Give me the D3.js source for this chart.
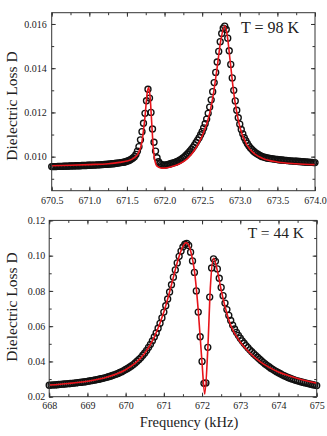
<!DOCTYPE html>
<html>
<head>
<meta charset="utf-8">
<script src="https://cdn.jsdelivr.net/npm/d3@7"></script>
<style>
  body { margin: 0; background: #fff; }
  svg { display: block; }
  text { font-family: "Liberation Serif", "Times New Roman", serif; fill: #222; }
</style>
</head>
<body>
<div id="chart"></div>
<script>
// ---- T = 98 K (upper panel), measured points ----
let freqTop = [
  670.50, 670.52, 670.54, 670.56, 670.58, 670.60, 670.62, 670.64, 670.66, 670.68,
  670.70, 670.72, 670.74, 670.76, 670.78, 670.80, 670.82, 670.84, 670.86, 670.88,
  670.90, 670.92, 670.94, 670.96, 670.98, 671.00, 671.02, 671.04, 671.06, 671.08,
  671.10, 671.12, 671.14, 671.16, 671.18, 671.20, 671.22, 671.24, 671.26, 671.28,
  671.30, 671.32, 671.34, 671.36, 671.38, 671.40, 671.42, 671.44, 671.46, 671.48,
  671.50, 671.52, 671.54, 671.56, 671.58, 671.60, 671.62, 671.64, 671.66, 671.68,
  671.70, 671.72, 671.74, 671.76, 671.78, 671.80, 671.82, 671.84, 671.86, 671.88,
  671.90, 671.92, 671.94, 671.96, 671.98, 672.00, 672.02, 672.04, 672.06, 672.08,
  672.10, 672.12, 672.14, 672.16, 672.18, 672.20, 672.22, 672.24, 672.26, 672.28,
  672.30, 672.32, 672.34, 672.36, 672.38, 672.40, 672.42, 672.44, 672.46, 672.48,
  672.50, 672.52, 672.54, 672.56, 672.58, 672.60, 672.62, 672.64, 672.66, 672.68,
  672.70, 672.72, 672.74, 672.76, 672.78, 672.80, 672.82, 672.84, 672.86, 672.88,
  672.90, 672.92, 672.94, 672.96, 672.98, 673.00, 673.02, 673.04, 673.06, 673.08,
  673.10, 673.12, 673.14, 673.16, 673.18, 673.20, 673.22, 673.24, 673.26, 673.28,
  673.30, 673.32, 673.34, 673.36, 673.38, 673.40, 673.42, 673.44, 673.46, 673.48,
  673.50, 673.52, 673.54, 673.56, 673.58, 673.60, 673.62, 673.64, 673.66, 673.68,
  673.70, 673.72, 673.74, 673.76, 673.78, 673.80, 673.82, 673.84, 673.86, 673.88,
  673.90, 673.92, 673.94, 673.96, 673.98, 674.00
]
let lossTop = [
  0.00955, 0.00955, 0.00955, 0.00955, 0.00956, 0.00956, 0.00956, 0.00956, 0.00957, 0.00957,
  0.00957, 0.00957, 0.00958, 0.00958, 0.00958, 0.00958, 0.00959, 0.00959, 0.00959, 0.00959,
  0.00960, 0.00960, 0.00960, 0.00960, 0.00961, 0.00961, 0.00961, 0.00962, 0.00962, 0.00962,
  0.00963, 0.00963, 0.00963, 0.00964, 0.00964, 0.00965, 0.00965, 0.00966, 0.00966, 0.00967,
  0.00968, 0.00968, 0.00969, 0.00970, 0.00971, 0.00972, 0.00973, 0.00974, 0.00975, 0.00977,
  0.00979, 0.00982, 0.00985, 0.00989, 0.00994, 0.01000, 0.01010, 0.01025, 0.01045, 0.01076,
  0.01113, 0.01151, 0.01196, 0.01253, 0.01305, 0.01265, 0.01200, 0.01125, 0.01065, 0.01025,
  0.00995, 0.00977, 0.00968, 0.00964, 0.00962, 0.00962, 0.00963, 0.00964, 0.00966, 0.00968,
  0.00970, 0.00972, 0.00974, 0.00977, 0.00980, 0.00984, 0.00988, 0.00993, 0.00998, 0.01004,
  0.01011, 0.01018, 0.01026, 0.01034, 0.01043, 0.01053, 0.01064, 0.01075, 0.01086, 0.01099,
  0.01113, 0.01130, 0.01149, 0.01170, 0.01196, 0.01224, 0.01257, 0.01294, 0.01335, 0.01381,
  0.01428, 0.01476, 0.01520, 0.01557, 0.01581, 0.01590, 0.01575, 0.01536, 0.01479, 0.01417,
  0.01356, 0.01300, 0.01252, 0.01210, 0.01176, 0.01147, 0.01123, 0.01103, 0.01086, 0.01072,
  0.01060, 0.01049, 0.01040, 0.01033, 0.01026, 0.01020, 0.01015, 0.01011, 0.01007, 0.01003,
  0.01000, 0.00998, 0.00996, 0.00994, 0.00993, 0.00992, 0.00991, 0.00990, 0.00989, 0.00988,
  0.00987, 0.00986, 0.00985, 0.00985, 0.00984, 0.00983, 0.00983, 0.00982, 0.00981, 0.00981,
  0.00980, 0.00980, 0.00979, 0.00979, 0.00978, 0.00978, 0.00977, 0.00977, 0.00976, 0.00976,
  0.00975, 0.00975, 0.00974, 0.00974, 0.00973, 0.00973
]
// fitted curve (red)
let fitFreqTop = [670.5, 670.75, 671.0, 671.25, 671.4, 671.5, 671.6, 671.65, 671.7, 671.74,
  671.77, 671.79, 671.81, 671.83, 671.85, 671.87, 671.9, 671.95, 672.0, 672.1,
  672.2, 672.3, 672.4, 672.5, 672.6, 672.65, 672.7, 672.75, 672.8, 672.83,
  672.87, 672.92, 673.0, 673.1, 673.2, 673.3, 673.5, 673.75, 674.0]
let fitTop = [0.00959, 0.00961, 0.00964, 0.00968, 0.00974, 0.00980, 0.00996, 0.01015, 0.01068, 0.01180,
  0.01290, 0.01312, 0.01262, 0.01150, 0.01040, 0.00985, 0.00957, 0.00949, 0.00948, 0.00955,
  0.00968, 0.00990, 0.01030, 0.01093, 0.01196, 0.01285, 0.01405, 0.01530, 0.01592, 0.01556,
  0.01440, 0.01288, 0.01135, 0.01050, 0.01012, 0.00993, 0.00976, 0.00968, 0.00964]
let xTicksTop = [670.5, 671.0, 671.5, 672.0, 672.5, 673.0, 673.5, 674.0]
let yTicksTop = [0.010, 0.012, 0.014, 0.016]

// ---- T = 44 K (lower panel), measured points ----
let freqBottom = [
  668.00, 668.05, 668.10, 668.15, 668.20, 668.25, 668.30, 668.35, 668.40, 668.45,
  668.50, 668.55, 668.60, 668.65, 668.70, 668.75, 668.80, 668.85, 668.90, 668.95,
  669.00, 669.05, 669.10, 669.15, 669.20, 669.25, 669.30, 669.35, 669.40, 669.45,
  669.50, 669.55, 669.60, 669.65, 669.70, 669.75, 669.80, 669.85, 669.90, 669.95,
  670.00, 670.05, 670.10, 670.15, 670.20, 670.25, 670.30, 670.35, 670.40, 670.45,
  670.50, 670.55, 670.60, 670.65, 670.70, 670.75, 670.80, 670.85, 670.90, 670.95,
  671.00, 671.05, 671.10, 671.15, 671.20, 671.25, 671.30, 671.35, 671.40, 671.45,
  671.50, 671.55, 671.60, 671.65, 671.70, 671.75, 671.80, 671.85, 671.90, 671.95,
  672.00, 672.05, 672.10, 672.15, 672.20, 672.25, 672.30, 672.35, 672.40, 672.45,
  672.50, 672.55, 672.60, 672.65, 672.70, 672.75, 672.80, 672.85, 672.90, 672.95,
  673.00, 673.05, 673.10, 673.15, 673.20, 673.25, 673.30, 673.35, 673.40, 673.45,
  673.50, 673.55, 673.60, 673.65, 673.70, 673.75, 673.80, 673.85, 673.90, 673.95,
  674.00, 674.05, 674.10, 674.15, 674.20, 674.25, 674.30, 674.35, 674.40, 674.45,
  674.50, 674.55, 674.60, 674.65, 674.70, 674.75, 674.80, 674.85, 674.90, 674.95,
  675.00
]
let lossBottom = [
  0.0265, 0.0266, 0.0267, 0.0267, 0.0268, 0.0269, 0.0270, 0.0271, 0.0272, 0.0273,
  0.0274, 0.0275, 0.0276, 0.0277, 0.0278, 0.0280, 0.0281, 0.0282, 0.0284, 0.0285,
  0.0287, 0.0289, 0.0291, 0.0293, 0.0295, 0.0297, 0.0299, 0.0302, 0.0304, 0.0307,
  0.0310, 0.0313, 0.0316, 0.0320, 0.0324, 0.0328, 0.0332, 0.0337, 0.0342, 0.0348,
  0.0354, 0.0360, 0.0367, 0.0374, 0.0382, 0.0391, 0.0401, 0.0411, 0.0422, 0.0435,
  0.0448, 0.0463, 0.0480, 0.0497, 0.0517, 0.0539, 0.0562, 0.0588, 0.0616, 0.0647,
  0.0680, 0.0716, 0.0754, 0.0794, 0.0835, 0.0878, 0.0919, 0.0959, 0.0996, 0.1026,
  0.1050, 0.1065, 0.1070, 0.1058, 0.1020, 0.0970, 0.0905, 0.0800, 0.0680, 0.0540,
  0.0400, 0.0276, 0.0278, 0.0480, 0.0765, 0.0930, 0.0982, 0.0968, 0.0925, 0.0872,
  0.0820, 0.0773, 0.0731, 0.0694, 0.0661, 0.0632, 0.0606, 0.0584, 0.0565, 0.0548,
  0.0532, 0.0517, 0.0503, 0.0490, 0.0478, 0.0466, 0.0455, 0.0444, 0.0434, 0.0424,
  0.0414, 0.0404, 0.0395, 0.0386, 0.0378, 0.0370, 0.0362, 0.0355, 0.0348, 0.0342,
  0.0336, 0.0330, 0.0324, 0.0319, 0.0314, 0.0309, 0.0305, 0.0301, 0.0297, 0.0293,
  0.0290, 0.0287, 0.0284, 0.0281, 0.0278, 0.0276, 0.0273, 0.0271, 0.0268, 0.0266,
  0.0263
]
let fitFreqBottom = [668.0, 668.5, 669.0, 669.5, 670.0, 670.25, 670.5, 670.75, 671.0, 671.1,
  671.2, 671.3, 671.4, 671.5, 671.58, 671.65, 671.72, 671.8, 671.9, 672.0,
  672.07, 672.15, 672.22, 672.3, 672.4, 672.5, 672.6, 672.75, 673.0, 673.25,
  673.5, 673.75, 674.0, 674.25, 674.5, 674.75, 675.0]
let fitBottom = [0.0266, 0.0275, 0.0288, 0.0310, 0.0353, 0.0390, 0.0447, 0.0538, 0.0680, 0.0754,
  0.0835, 0.0920, 0.0996, 0.1052, 0.1074, 0.1060, 0.1010, 0.0915, 0.0690, 0.0390,
  0.0215, 0.0470, 0.0830, 0.0985, 0.0915, 0.0805, 0.0712, 0.0605, 0.0510, 0.0448,
  0.0402, 0.0368, 0.0340, 0.0320, 0.0303, 0.0289, 0.0277]
let xTicksBottom = [668, 669, 670, 671, 672, 673, 674, 675]
let yTicksBottom = [0.02, 0.04, 0.06, 0.08, 0.10, 0.12]

let svgW = 327
let svgH = 436
let red = "#e8141b"

let svg = d3.select("#chart")
  .append("svg")
  .attr("width", svgW)
  .attr("height", svgH)

function drawPanel(p) {
  let w = p.right - p.left
  let h = p.bottom - p.top

  let x = d3.scaleLinear().domain(p.xDomain).range([0, w])
  let y = d3.scaleLinear().domain(p.yDomain).range([h, 0])

  let g = svg.append("g")
    .attr("transform", `translate(${p.left},${p.top})`)

  // minor ticks half way between majors
  let xMinor = d3.range(p.xDomain[0], p.xDomain[1] + 1e-9, p.xMinorStep)
  let yMinor = d3.range(p.yTicks[0] - p.yMinorStep, p.yDomain[1] + 1e-9, p.yMinorStep)
    .filter(v => v >= p.yDomain[0] - 1e-9)

  function tickGroup(axis, tx, ty) {
    let a = g.append("g")
      .attr("transform", `translate(${tx},${ty})`)
      .attr("font-family", '"Liberation Serif", "Times New Roman", serif')
      .attr("font-size", 12)
      .attr("color", "#333")
      .call(axis)
    a.select(".domain").remove()
    return a
  }

  // inward major ticks with labels, bottom and left
  tickGroup(d3.axisBottom(x).tickValues(p.xTicks).tickSize(-4).tickPadding(p.xPad)
    .tickFormat(p.xFormat), 0, h)
  tickGroup(d3.axisLeft(y).tickValues(p.yTicks).tickSize(-4).tickPadding(p.yPad)
    .tickFormat(p.yFormat), 0, 0)
  // top and right: ticks only
  tickGroup(d3.axisTop(x).tickValues(p.xTicks).tickSize(-4).tickFormat(""), 0, 0)
  tickGroup(d3.axisRight(y).tickValues(p.yTicks).tickSize(-4).tickFormat(""), w, 0)
  // minor ticks on all sides
  tickGroup(d3.axisBottom(x).tickValues(xMinor).tickSize(-2.5).tickFormat(""), 0, h)
  tickGroup(d3.axisTop(x).tickValues(xMinor).tickSize(-2.5).tickFormat(""), 0, 0)
  tickGroup(d3.axisLeft(y).tickValues(yMinor).tickSize(-2.5).tickFormat(""), 0, 0)
  tickGroup(d3.axisRight(y).tickValues(yMinor).tickSize(-2.5).tickFormat(""), w, 0)

  g.selectAll(".tick text").style("fill", "#222")

  // measured points
  g.append("g")
    .selectAll("circle")
    .data(p.freq)
    .enter()
    .append("circle")
    .attr("cx", (d) => x(d))
    .attr("cy", (d, i) => y(p.loss[i]))
    .attr("r", 3)
    .attr("fill", "none")
    .attr("stroke", "#111")
    .attr("stroke-width", 1.35)

  // fit line
  let line = d3.line()
    .x((d) => x(d[0]))
    .y((d) => y(d[1]))
    .curve(d3.curveMonotoneX)

  g.append("path")
    .datum(p.fitFreq.map((f, i) => [f, p.fit[i]]))
    .attr("d", line)
    .attr("fill", "none")
    .attr("stroke", red)
    .attr("stroke-width", 1.6)

  // frame
  g.append("rect")
    .attr("width", w)
    .attr("height", h)
    .attr("fill", "none")
    .attr("stroke", "#333")
    .attr("stroke-width", 1)

  // labels
  svg.append("text")
    .attr("transform", `translate(${p.yTitleX},${p.yTitleY}) rotate(-90)`)
    .attr("text-anchor", "middle")
    .attr("font-size", 15.5)
    .text("Dielectric Loss D")

  svg.append("text")
    .attr("x", p.tempX)
    .attr("y", p.tempY)
    .attr("text-anchor", "end")
    .attr("font-size", p.tempSize)
    .text(p.temp)
}

drawPanel({
  left: 51.7, right: 315, top: 12.7, bottom: 190.7,
  xDomain: [670.5, 674.0], yDomain: [0.00846, 0.01651],
  xTicks: xTicksTop, yTicks: yTicksTop,
  xMinorStep: 0.25, yMinorStep: 0.001,
  xFormat: d3.format(".1f"), yFormat: d3.format(".3f"),
  xPad: 6, yPad: 5,
  freq: freqTop, loss: lossTop, fitFreq: fitFreqTop, fit: fitTop,
  yTitleX: 17, yTitleY: 106,
  temp: "T = 98 K", tempX: 299, tempY: 33, tempSize: 16
})

drawPanel({
  left: 49.2, right: 316.7, top: 220.4, bottom: 396.7,
  xDomain: [668, 675], yDomain: [0.02, 0.12],
  xTicks: xTicksBottom, yTicks: yTicksBottom,
  xMinorStep: 0.5, yMinorStep: 0.01,
  xFormat: d3.format("d"), yFormat: d3.format(".2f"),
  xPad: 5.5, yPad: 4,
  freq: freqBottom, loss: lossBottom, fitFreq: fitFreqBottom, fit: fitBottom,
  yTitleX: 17, yTitleY: 307,
  temp: "T = 44 K", tempX: 304, tempY: 238, tempSize: 15.5
})

svg.append("text")
  .attr("x", 189)
  .attr("y", 427)
  .attr("text-anchor", "middle")
  .attr("font-size", 14.5)
  .text("Frequency (kHz)")
</script>
</body>
</html>
